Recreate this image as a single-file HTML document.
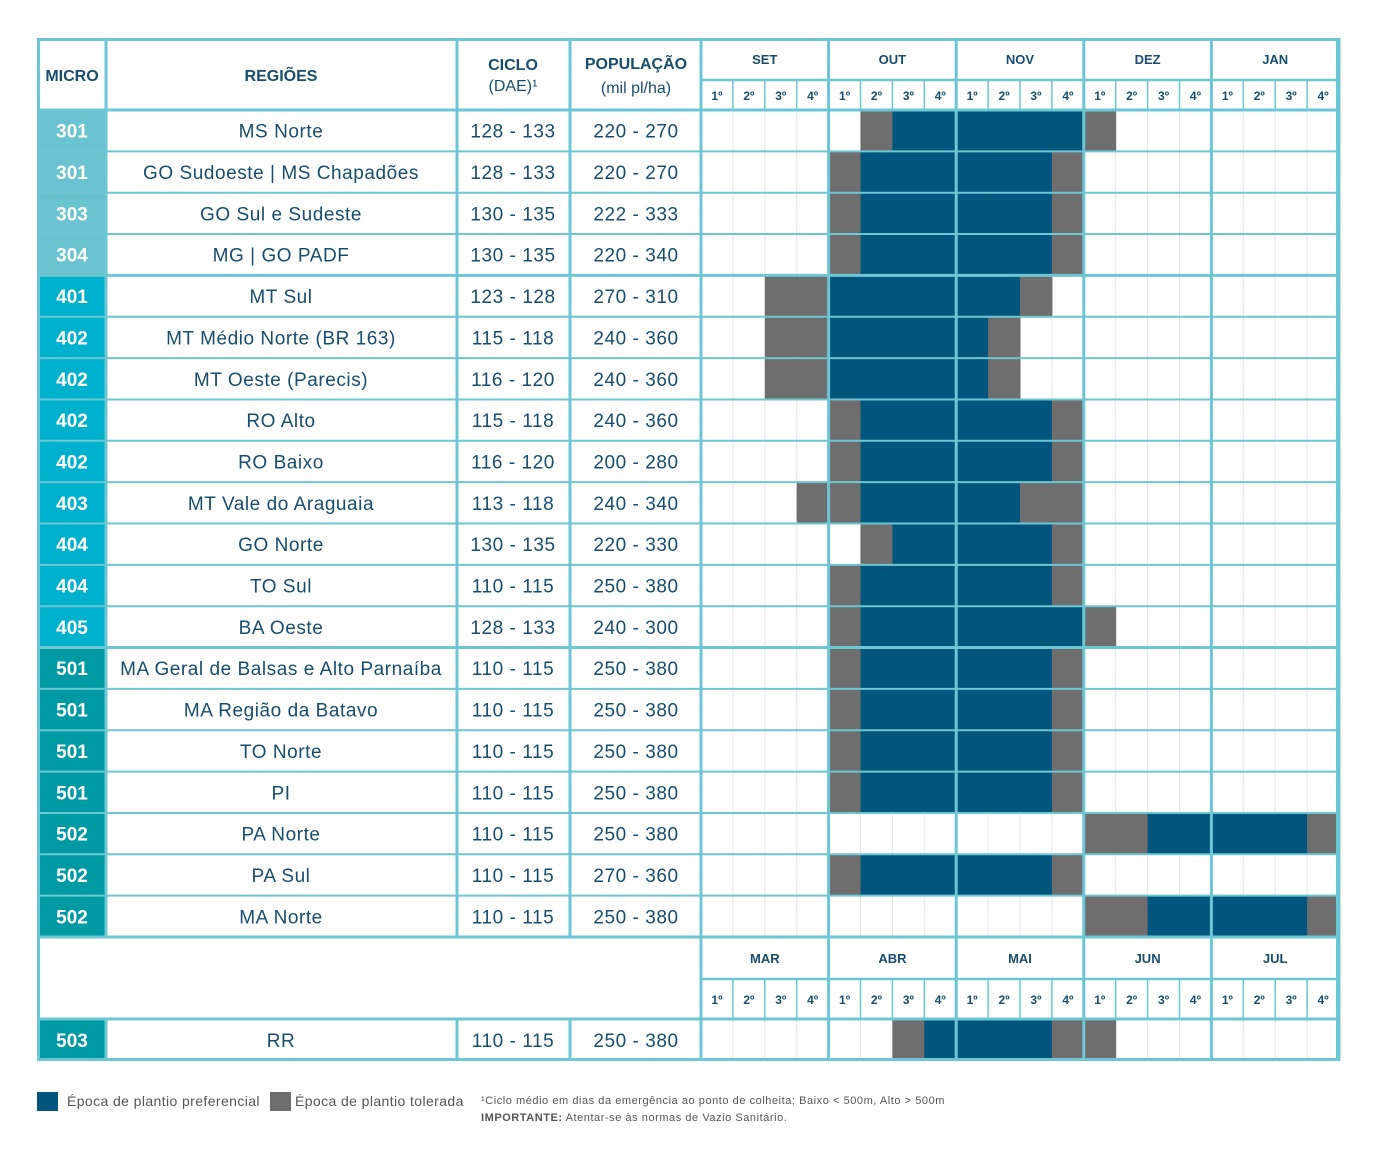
<!DOCTYPE html>
<html><head><meta charset="utf-8"><style>
html,body{margin:0;padding:0;background:#fff;}
svg{display:block;font-family:"Liberation Sans",sans-serif;}
</style></head>
<body>
<svg id="chart" width="1377" height="1159" viewBox="0 0 1377 1159" xmlns="http://www.w3.org/2000/svg"></svg>
<script>
const micros=["301","301","303","304","401","402","402","402","402","403","404","404","405","501","501","501","501","502","502","502"];
const regions=["MS Norte","GO Sudoeste | MS Chapadões","GO Sul e Sudeste","MG | GO PADF","MT Sul","MT Médio Norte (BR 163)","MT Oeste (Parecis)","RO Alto","RO Baixo","MT Vale do Araguaia","GO Norte","TO Sul","BA Oeste","MA Geral de Balsas e Alto Parnaíba","MA Região da Batavo","TO Norte","PI","PA Norte","PA Sul","MA Norte"];
const ciclos=["128 - 133","128 - 133","130 - 135","130 - 135","123 - 128","115 - 118","116 - 120","115 - 118","116 - 120","113 - 118","130 - 135","110 - 115","128 - 133","110 - 115","110 - 115","110 - 115","110 - 115","110 - 115","110 - 115","110 - 115"];
const pops=["220 - 270","220 - 270","222 - 333","220 - 340","270 - 310","240 - 360","240 - 360","240 - 360","200 - 280","240 - 340","220 - 330","250 - 380","240 - 300","250 - 380","250 - 380","250 - 380","250 - 380","250 - 380","270 - 360","250 - 380"];
// g = tolerated, b = preferred, . = none (20 weeks SET..JAN)
const schedules=[
".....gbbbbbbg.......",
"....gbbbbbbg........",
"....gbbbbbbg........",
"....gbbbbbbg........",
"..ggbbbbbbg.........",
"..ggbbbbbg..........",
"..ggbbbbbg..........",
"....gbbbbbbg........",
"....gbbbbbbg........",
"...ggbbbbbgg........",
".....gbbbbbg........",
"....gbbbbbbg........",
"....gbbbbbbbg.......",
"....gbbbbbbg........",
"....gbbbbbbg........",
"....gbbbbbbg........",
"....gbbbbbbg........",
"............ggbbbbbg",
"....gbbbbbbg........",
"............ggbbbbbg"];
const months1=["SET","OUT","NOV","DEZ","JAN"];
const months2=["MAR","ABR","MAI","JUN","JUL"];
const weekLabels=["1º","2º","3º","4º"];
const rrMicro="503",rrRegion="RR",rrCiclo="110 - 115",rrPop="250 - 380";
const rrSchedule="......gbbbbgg.......";

const svg=document.getElementById('chart');
const NS="http://www.w3.org/2000/svg";
function mk(tag,attrs,parent){const e=document.createElementNS(NS,tag);for(const k in attrs)e.setAttribute(k,attrs[k]);(parent||svg).appendChild(e);return e;}
function txt(x,y,s,size,weight,fill,name,ls){const t=mk('text',{x:x,y:y,'font-size':size,'font-weight':weight,fill:fill,'text-anchor':'middle'});if(ls)t.setAttribute('letter-spacing',ls);t.textContent=s;


return t;}
const TEAL="#6cc6d3",NAVY="#02567d",GRAY="#6e6e6e",TXT="#174d6e",LIGHT="#e6e6e6";
const L=37,R=1339,W0=701,WK=(R-W0)/20;
const wx=i=>W0+i*WK;
const ROW0=110,RH=41.35;
const ry=i=>ROW0+i*RH;
const microColor=m=>m[0]==="3"?"#69c3d0":m[0]==="4"?"#00b1cd":"#009aa5";
const cx=[72,281,513,636];

function drawRow(y,h,m,reg,cic,pop,sched,idx){
  const g=mk('g',{});
  
  
  mk('rect',{x:L,y:y,width:106-L,height:h,fill:microColor(m)},g);
  for(let k=1;k<20;k++){if(k%4)mk('line',{x1:wx(k),x2:wx(k),y1:y,y2:y+h,stroke:LIGHT,'stroke-width':1},g);}
  for(let k=0;k<20;k++){const c=sched[k];if(c==='.')continue;
    const r=mk('rect',{x:wx(k),y:y,width:WK+0.5,height:h,fill:c==='b'?NAVY:GRAY},g);
    
    
  }
  const ty=y+h/2+7;
  txt(cx[0],ty,m,19,'bold','#fff','micro-code');
  txt(cx[1],ty,reg,19,'normal',TXT,'region-name','0.55');
  txt(cx[2],ty,cic,19,'normal',TXT,'cycle-value','0.55');
  txt(cx[3],ty,pop,19,'normal',TXT,'population-value','0.55');
}
function drawWeekHeader(y1,y2,y3,months,name){
  months.forEach((mo,i)=>txt(wx(i*4)+WK*2,(y1+y2)/2+5,mo,13,'bold',TXT,name+'-'+mo.toLowerCase()));
  for(let k=0;k<20;k++)txt(wx(k)+WK/2,(y2+y3)/2+5,weekLabels[k%4],12,'bold',TXT,'week-label');
  for(let k=1;k<20;k++)if(k%4)mk('line',{x1:wx(k),x2:wx(k),y1:y2,y2:y3,stroke:TEAL,'stroke-width':1.5});
  mk('line',{x1:W0,x2:R,y1:y2,y2:y2,stroke:TEAL,'stroke-width':2.5});
}
txt(72,81,"MICRO",16,'bold',TXT,'micro-header');
txt(281,81,"REGIÕES",16,'bold',TXT,'regions-header');
txt(513,70,"CICLO",16,'bold',TXT,'cycle-header');
txt(513,91,"(DAE)¹",16,'normal',TXT,'cycle-unit');
txt(636,69,"POPULAÇÃO",16,'bold',TXT,'population-header');
txt(636,93,"(mil pl/ha)",16,'normal',TXT,'population-unit');
drawWeekHeader(38,80,110,months1,'month');
for(let i=0;i<regions.length;i++)drawRow(ry(i),RH,micros[i],regions[i],ciclos[i],pops[i],schedules[i],i);
drawWeekHeader(937,979,1019,months2,'month2');
drawRow(1019,42,rrMicro,rrRegion,rrCiclo,rrPop,rrSchedule,20);
for(let i=1;i<=20;i++){const thick=(i===4||i===13||i===20);mk('line',{x1:L,x2:R,y1:ry(i),y2:ry(i),stroke:TEAL,'stroke-width':thick?3:2});}
mk('line',{x1:L,x2:R,y1:110,y2:110,stroke:TEAL,'stroke-width':3});
mk('line',{x1:L,x2:R,y1:1019,y2:1019,stroke:TEAL,'stroke-width':3});
[106,457,570].forEach(x=>{mk('line',{x1:x,x2:x,y1:38,y2:937,stroke:TEAL,'stroke-width':3});mk('line',{x1:x,x2:x,y1:1019,y2:1061,stroke:TEAL,'stroke-width':3});});
for(let m=0;m<=5;m++)mk('line',{x1:wx(m*4),x2:wx(m*4),y1:38,y2:1061,stroke:TEAL,'stroke-width':3});
mk('rect',{x:L+1.5,y:39.5,width:R-L-3,height:1020,fill:'none',stroke:TEAL,'stroke-width':3});
const lg=mk('g',{});


mk('rect',{x:37,y:1092,width:21,height:19,fill:NAVY},lg);
mk('rect',{x:270,y:1092,width:21,height:19,fill:GRAY},lg);
let t=txt(67,1106,"Época de plantio preferencial",14,'normal','#555','legend-preferred','0.4');t.setAttribute('text-anchor','start');
t=txt(295,1106,"Época de plantio tolerada",14,'normal','#555','legend-tolerated','0.4');t.setAttribute('text-anchor','start');
t=txt(481,1104,"¹Ciclo médio em dias da emergência ao ponto de colheita; Baixo < 500m, Alto > 500m",11,'normal','#555','footnote-cycle','0.55');t.setAttribute('text-anchor','start');
t=txt(481,1121,"",11,'normal','#555','footnote-important','0.55');t.setAttribute('text-anchor','start');
const b=document.createElementNS(NS,'tspan');b.setAttribute('font-weight','bold');b.textContent="IMPORTANTE:";t.appendChild(b);
t.appendChild(document.createTextNode(" Atentar-se às normas de Vazio Sanitário."));
</script>
</body></html>
